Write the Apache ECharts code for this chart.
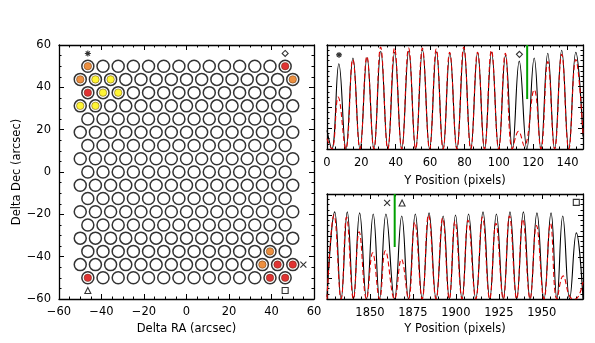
<!DOCTYPE html>
<html><head><meta charset="utf-8">
<script src="https://cdn.jsdelivr.net/npm/echarts@6/dist/echarts.min.js"></script>
<style>html,body{margin:0;padding:0;background:#fff}#c{width:595px;height:343px}</style>
</head><body><div id="c"></div>
<script>
// ---------------- Fiber map (left panel) ----------------
const decRows = [50, 43.75, 37.5, 31.25, 25, 18.75, 12.5, 6.25, 0, -6.25, -12.5, -18.75, -25, -31.25, -37.5, -43.75, -50];
const raShortRow = [-46.43, -39.29, -32.14, -25, -17.86, -10.71, -3.57, 3.57, 10.71, 17.86, 25, 32.14, 39.29, 46.43];
const raLongRow = [-50, -42.86, -35.71, -28.57, -21.43, -14.29, -7.14, 0, 7.14, 14.29, 21.43, 28.57, 35.71, 42.86, 50];
const yellowFibers = [[-42.86, 43.75], [-35.71, 43.75], [-39.29, 37.5], [-32.14, 37.5], [-50, 31.25], [-42.86, 31.25]];
const orangeFibers = [[-46.43, 50], [-50, 43.75], [50, 43.75], [39.29, -37.5], [35.71, -43.75]];
const redFibers = [[46.43, 50], [-46.43, 37.5], [42.86, -43.75], [50, -43.75], [-46.43, -50], [39.29, -50], [46.43, -50]];
const mapAsterisk = [[-46.43, 56]];
const mapDiamond = [[46.43, 56]];
const mapCross = [[55, -43.75]];
const mapTriangle = [[-46.43, -56]];
const mapSquare = [[46.43, -56]];
const mapTicks = [-60, -40, -20, 0, 20, 40, 60];

// ---------------- Top-right profile ----------------
const topTicks = [0, 20, 40, 60, 80, 100, 120, 140];
const topBlackX = [0, 2.8, 6.9, 11.0, 15.1, 19.2, 23.3, 27.3, 31.3, 35.4, 39.4, 43.5, 47.6, 51.6, 55.6, 59.7, 63.7, 67.6, 71.5, 75.6, 79.7, 83.7, 87.7, 91.7, 95.8, 99.9, 103.9, 107.9, 111.9, 116.3, 120.6, 124.5, 128.5, 132.5, 136.6, 140.7, 144.8, 149];
const topBlackY = [0.18, 0, 0.82, 0, 0.875, 0, 0.88, 0, 0.94, 0, 0.93, 0, 0.94, 0, 0.955, 0, 0.935, 0, 0.92, 0, 0.965, 0, 0.93, 0, 0.93, 0, 0.90, 0, 0.845, 0, 0.875, 0, 0.92, 0, 0.95, 0, 0.93, 0.12];
const topRedX = [0, 2.8, 6.5, 10.9, 15.0, 19.2, 23.2, 27.3, 31.2, 35.4, 39.3, 43.5, 47.5, 51.6, 55.5, 59.7, 63.6, 67.6, 71.4, 75.6, 79.6, 83.7, 87.6, 91.7, 95.7, 99.9, 103.8, 107.9, 111.5, 114.8, 120.6, 124.5, 128.5, 132.5, 136.6, 140.7, 144.8, 149];
const topRedY = [0.1, 0, 0.5, 0, 0.86, 0, 0.89, 0, 0.98, 0, 0.97, 0, 0.97, 0, 0.97, 0, 0.96, 0, 0.93, 0, 0.98, 0, 0.93, 0, 0.95, 0, 0.92, 0, 0.17, 0.03, 0.57, 0, 0.84, 0, 0.91, 0, 0.86, 0.15];
const topGreenX = [116.5, 116.5];
const topGreenY = [1.0, 0.48];
const topAsterisk = [[7, 0.905]];
const topDiamond = [[112, 0.91]];

// ---------------- Bottom-right profile ----------------
const botTicks = [1850, 1875, 1900, 1925, 1950];
const botBlackX = [1825, 1829.5, 1833.2, 1836.8, 1840.4, 1844.0, 1848.0, 1851.9, 1855.6, 1859.3, 1864.3, 1868.5, 1872.4, 1876.4, 1880.4, 1884.4, 1888.5, 1892.6, 1896.2, 1899.8, 1903.6, 1907.4, 1911.6, 1915.8, 1919.7, 1923.6, 1927.6, 1931.5, 1935.4, 1939.3, 1943.2, 1947.2, 1951.3, 1955.4, 1958.8, 1962.2, 1966.2, 1970.1, 1974];
const botBlackY = [0.02, 0.83, 0, 0.83, 0, 0.82, 0, 0.81, 0, 0.81, 0, 0.79, 0, 0.81, 0, 0.82, 0, 0.79, 0, 0.80, 0, 0.81, 0, 0.83, 0, 0.81, 0, 0.83, 0, 0.83, 0, 0.82, 0, 0.82, 0, 0.79, 0, 0.63, 0];
const botRedX = [1825, 1829.1, 1833.2, 1836.4, 1840.4, 1843.7, 1848.0, 1851.6, 1855.6, 1859.0, 1864.3, 1868.3, 1872.4, 1876.1, 1880.4, 1884.1, 1888.5, 1892.3, 1896.2, 1899.5, 1903.6, 1907.1, 1911.6, 1915.5, 1919.7, 1923.3, 1927.6, 1931.2, 1935.4, 1939.0, 1943.2, 1946.9, 1951.3, 1955.1, 1958.8, 1962.4, 1966.4, 1969.5, 1974];
const botRedY = [0, 0.80, 0, 0.78, 0, 0.64, 0, 0.44, 0, 0.46, 0, 0.38, 0, 0.73, 0, 0.80, 0, 0.77, 0, 0.74, 0, 0.75, 0, 0.78, 0, 0.72, 0, 0.79, 0, 0.76, 0, 0.70, 0, 0.72, 0, 0.22, 0.02, 0, 0.16];
const botGreenX = [1864.4, 1864.4];
const botGreenY = [1.0, 0.495];
const botCross = [[1860, 0.915]];
const botTriangle = [[1868.7, 0.915]];
const botSquare = [[1970.1, 0.92]];

const profTicks = [0.2, 0.4, 0.6, 0.8];

// ---------------- helpers ----------------
const FONT = 'DejaVu Sans';
const FS = 11.5;
function minorList(min, max, step, majorStep) {
  const out = [];
  for (let v = min; v <= max + 1e-9; v += step) {
    const r = Math.round(v * 1000) / 1000;
    if (Math.abs(r / majorStep - Math.round(r / majorStep)) > 1e-6) out.push(r);
  }
  return out;
}
const fmt = v => String(v).replace('-', '\u2212');
const xAxes = [], yAxes = [];
function mkAxis(grid, position, r, isMajor, withLabels) {
  return {
    type: 'value', gridIndex: grid, position: position, min: r.min, max: r.max,
    axisLine: { show: isMajor, onZero: false, lineStyle: { color: '#000', width: 1.3 } },
    axisTick: { show: true, inside: true, length: isMajor ? 5 : 2.5, customValues: isMajor ? r.major : r.minor, lineStyle: { color: '#000', width: 1 } },
    minorTick: { show: false },
    splitLine: { show: false },
    axisLabel: withLabels ? { show: true, customValues: r.major, margin: r.margin, color: '#000', fontFamily: FONT, fontSize: FS, formatter: fmt } : { show: false },
    name: withLabels ? r.name : '',
    nameLocation: 'middle', nameGap: r.nameGap || 20,
    nameTextStyle: { color: '#000', fontFamily: FONT, fontSize: FS }
  };
}
function addBox(grid, xr, yr) {
  const xi = xAxes.length, yi = yAxes.length;
  xAxes.push(mkAxis(grid, 'bottom', xr, true, true));
  xAxes.push(mkAxis(grid, 'bottom', xr, false, false));
  xAxes.push(mkAxis(grid, 'top', xr, true, false));
  xAxes.push(mkAxis(grid, 'top', xr, false, false));
  yAxes.push(mkAxis(grid, 'left', yr, true, !!yr.name));
  yAxes.push(mkAxis(grid, 'left', yr, false, false));
  yAxes.push(mkAxis(grid, 'right', yr, true, false));
  yAxes.push(mkAxis(grid, 'right', yr, false, false));
  return [xi, yi];
}
const b0 = addBox(0,
  { min: -60, max: 60, major: mapTicks, minor: minorList(-60, 60, 5, 20), margin: 7, name: 'Delta RA (arcsec)', nameGap: 24 },
  { min: -60, max: 60, major: mapTicks, minor: minorList(-60, 60, 5, 20), margin: 8, name: 'Delta Dec (arcsec)', nameGap: 36 });
const b1 = addBox(1,
  { min: 0, max: 149, major: topTicks, minor: minorList(0, 149, 5, 20), margin: 8, name: 'Y Position (pixels)', nameGap: 26 },
  { min: 0, max: 1, major: profTicks, minor: minorList(0, 1, 0.05, 0.2) });
const b2 = addBox(2,
  { min: 1825, max: 1974, major: botTicks, minor: minorList(1825, 1974, 5, 25), margin: 8, name: 'Y Position (pixels)', nameGap: 24 },
  { min: 0, max: 1, major: profTicks, minor: minorList(0, 1, 0.05, 0.2) });

const zip = (xs, ys) => xs.map((x, i) => [x, ys[i]]);
const circles = [];
decRows.forEach((d, i) => { (i % 2 === 0 ? raShortRow : raLongRow).forEach(r => circles.push([r, d])); });

const ASTER = 'path://M5 0V10M0 5H10M1.5 1.5L8.5 8.5M8.5 1.5L1.5 8.5';
const CROSS = 'path://M0 0L10 10M10 0L0 10';
const outline = { color: 'none', borderColor: '#000', borderWidth: 1.1 };
function marker(b, data, symbol, size) {
  return { type: 'scatter', xAxisIndex: b[0], yAxisIndex: b[1], data: data, symbol: symbol, symbolSize: size, itemStyle: outline, silent: true, z: 10 };
}
function dots(data, color) {
  return { type: 'scatter', xAxisIndex: b0[0], yAxisIndex: b0[1], data: data, symbol: 'circle', symbolSize: 7.5, itemStyle: { color: color, borderColor: '#402000', borderWidth: 0.5 }, silent: true, z: 5 };
}
function profile(b, xs, ys, color, dashed, z) {
  return { type: 'line', xAxisIndex: b[0], yAxisIndex: b[1], data: zip(xs, ys), showSymbol: false, symbol: 'none', smooth: 0.45,
    lineStyle: { color: color, width: 1.1, type: dashed ? [5, 3] : 'solid' }, silent: true, z: z, clip: true };
}

const option = {
  animation: false,
  backgroundColor: '#fff',
  grid: [
    { left: 59, top: 45, width: 255, height: 254 },
    { left: 327, top: 45, width: 256, height: 104 },
    { left: 327, top: 194, width: 256, height: 105 }
  ],
  xAxis: xAxes,
  yAxis: yAxes,
  series: [
    { type: 'scatter', xAxisIndex: b0[0], yAxisIndex: b0[1], data: circles, symbol: 'circle', symbolSize: 12,
      itemStyle: { color: '#fff', borderColor: '#000', borderWidth: 1.5 }, silent: true, z: 3 },
    dots(yellowFibers, '#fff200'),
    dots(orangeFibers, '#e8730f'),
    dots(redFibers, '#d80000'),
    marker(b0, mapAsterisk, ASTER, 6),
    marker(b0, mapDiamond, 'diamond', 6),
    marker(b0, mapCross, CROSS, 6),
    marker(b0, mapTriangle, 'triangle', 6),
    marker(b0, mapSquare, 'rect', 6),

    profile(b1, topBlackX, topBlackY, '#000', false, 3),
    profile(b1, topRedX, topRedY, '#e00000', true, 4),
    { type: 'line', xAxisIndex: b1[0], yAxisIndex: b1[1], data: zip(topGreenX, topGreenY), showSymbol: false, symbol: 'none', lineStyle: { color: '#00a000', width: 2 }, z: 6, silent: true },
    marker(b1, topAsterisk, ASTER, 6),
    marker(b1, topDiamond, 'diamond', 6),

    profile(b2, botBlackX, botBlackY, '#000', false, 3),
    profile(b2, botRedX, botRedY, '#e00000', true, 4),
    { type: 'line', xAxisIndex: b2[0], yAxisIndex: b2[1], data: zip(botGreenX, botGreenY), showSymbol: false, symbol: 'none', lineStyle: { color: '#00a000', width: 2 }, z: 6, silent: true },
    marker(b2, botCross, CROSS, 6),
    marker(b2, botTriangle, 'triangle', 6),
    marker(b2, botSquare, 'rect', 6)
  ]
};
const chart = echarts.init(document.getElementById('c'), null, { renderer: 'canvas' });
chart.setOption(option);
</script>
</body></html>
